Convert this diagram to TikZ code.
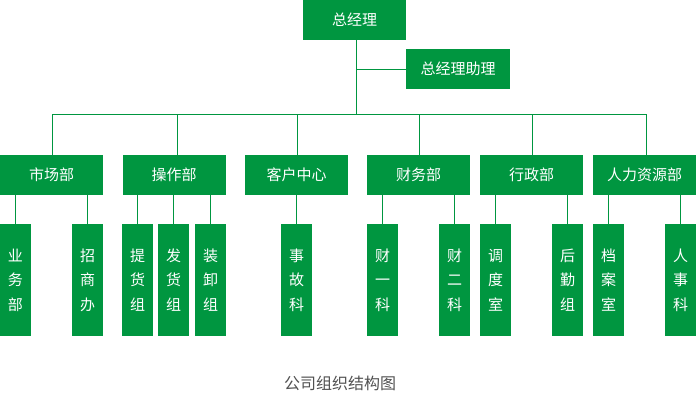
\documentclass[tikz,border=0pt]{standalone}
\usepackage{fontspec}
\setmainfont{Noto Sans CJK SC}
\definecolor{grn}{RGB}{0,150,64}
\definecolor{cap}{RGB}{80,80,80}
\tikzset{
  box/.style={fill=grn, draw=none, text=white, inner sep=0pt, font=\fontsize{15}{17}\selectfont},
  dept/.style={box, minimum width=103pt, minimum height=40pt},
  sub/.style={box, minimum width=31pt, minimum height=112pt, align=center, font=\fontsize{15}{24.5}\selectfont},
  link/.style={draw=grn, line width=1pt}
}
\begin{document}
\begin{tikzpicture}[x=1pt,y=-1pt]
\useasboundingbox (0,0) rectangle (696,402);
\node[dept] (ceo) at (354.5,20) {总经理};
\node[box, minimum width=104pt, minimum height=40pt] (asst) at (458,69) {总经理助理};
\node[dept] (d1) at (51.5,175) {市场部};
\node[dept] (d2) at (174,175) {操作部};
\node[dept] (d3) at (296.5,175) {客户中心};
\node[dept] (d4) at (418.5,175) {财务部};
\node[dept] (d5) at (531.5,175) {行政部};
\node[dept] (d6) at (644.5,175) {人力资源部};
\node[sub] (s1) at (15.5,280) {业\\务\\部};
\node[sub] (s2) at (87.5,280) {招\\商\\办};
\node[sub] (s3) at (137.5,280) {提\\货\\组};
\node[sub] (s4) at (173.5,280) {发\\货\\组};
\node[sub] (s5) at (210.5,280) {装\\卸\\组};
\node[sub] (s6) at (296.5,280) {事\\故\\科};
\node[sub] (s7) at (382.5,280) {财\\一\\科};
\node[sub] (s8) at (454.5,280) {财\\二\\科};
\node[sub] (s9) at (495.5,280) {调\\度\\室};
\node[sub] (s10) at (567.5,280) {后\\勤\\组};
\node[sub] (s11) at (608.5,280) {档\\案\\室};
\node[sub] (s12) at (680.5,280) {人\\事\\科};
\node[text=cap, font=\fontsize{16}{18}\selectfont] (caption) at (340,383) {公司组织结构图};
\coordinate (busL) at (52.3,114.5);
\coordinate (busR) at (646.7,114.5);
\draw[link] (busL) -- (busR);
\draw[link] ([xshift=1.8pt]ceo.south) -- ([xshift=1.8pt]ceo.south |- busL);
\draw[link] (asst.west) -- ([xshift=1.8pt]asst.west -| ceo.south);
\foreach \d/\dx in {d1/0.8,d2/3.3,d3/0.8,d4/0.8,d5/0.8,d6/2.2} {
  \draw[link] ([xshift=\dx pt]\d.north) -- ([xshift=\dx pt]\d.north |- busL);
}
\foreach \s/\d in {s1/d1,s2/d1,s3/d2,s4/d2,s5/d2,s6/d3,s7/d4,s8/d4,s9/d5,s10/d5,s11/d6,s12/d6} {
  \draw[link] (\s.north) -- (\s.north |- \d.south);
}
\end{tikzpicture}
\end{document}
